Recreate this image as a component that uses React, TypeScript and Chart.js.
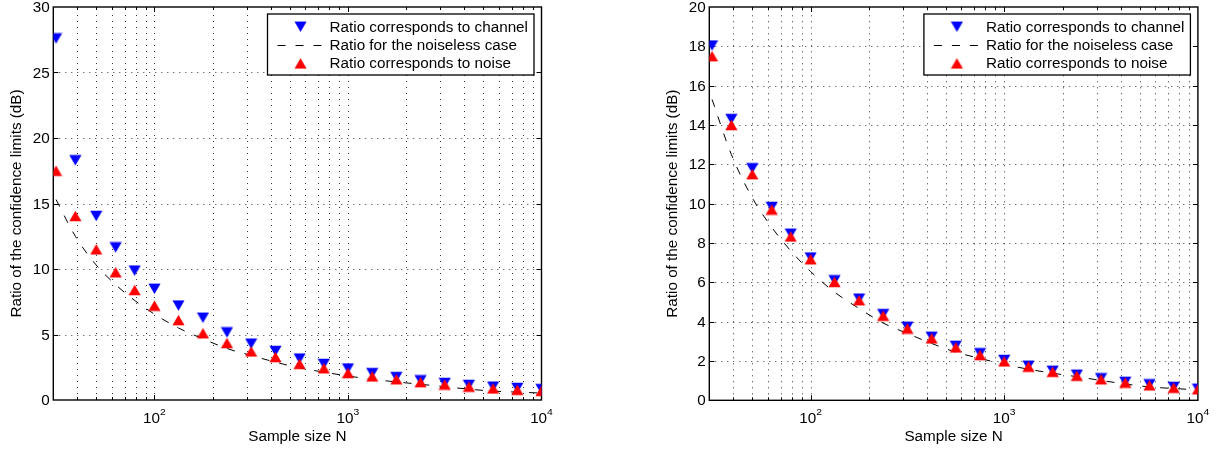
import React, { useEffect, useRef } from 'react';
import { Chart, registerables } from 'chart.js';

Chart.register(...registerables);

// ---------------- data ----------------
const sampleSizes = [31, 39, 50, 63, 79, 100, 133, 178, 237, 316, 422, 562, 750, 1000, 1334, 1778, 2371, 3162, 4217, 5623, 7499, 10000];

const leftChannel = [27.6, 18.3, 14.05, 11.65, 9.88, 8.49, 7.21, 6.28, 5.16, 4.3, 3.74, 3.16, 2.75, 2.4, 2.05, 1.75, 1.5, 1.3, 1.15, 1.02, 0.92, 0.83];
const leftNoise = [17.5, 14.05, 11.5, 9.75, 8.4, 7.2, 6.1, 5.1, 4.35, 3.71, 3.28, 2.76, 2.42, 2.06, 1.8, 1.58, 1.36, 1.18, 1.02, 0.88, 0.78, 0.7];

const rightChannel = [18.04, 14.3, 11.8, 9.83, 8.47, 7.26, 6.1, 5.17, 4.38, 3.74, 3.23, 2.77, 2.39, 2.05, 1.76, 1.5, 1.3, 1.12, 0.94, 0.81, 0.68, 0.59];
const rightNoise = [17.5, 14.0, 11.5, 9.7, 8.33, 7.17, 6.02, 5.09, 4.3, 3.65, 3.15, 2.69, 2.3, 1.98, 1.71, 1.45, 1.25, 1.07, 0.9, 0.76, 0.64, 0.56];

const noiseless = [15.3, 12.5, 10.3, 8.8, 7.6, 6.55, 5.5, 4.67, 3.93, 3.4, 2.89, 2.45, 2.13, 1.83, 1.58, 1.38, 1.2, 1.01, 0.83, 0.68, 0.6, 0.53];

const xMin = 30;
const xMax = 10000;
const xMajorTicks = [100, 1000, 10000];
const xExponents = ['2', '3', '4'];
const xMinorTicks = [30, 40, 50, 60, 70, 80, 90, 200, 300, 400, 500, 600, 700, 800, 900, 2000, 3000, 4000, 5000, 6000, 7000, 8000, 9000];

const leftYTicks = [0, 5, 10, 15, 20, 25, 30];
const rightYTicks = [0, 2, 4, 6, 8, 10, 12, 14, 16, 18, 20];

const legendLabels = ['Ratio corresponds to channel', 'Ratio for the noiseless case', 'Ratio corresponds to noise'];
const xTitle = 'Sample size N';
const yTitle = 'Ratio of the confidence limits (dB)';

// ---------------- styling helpers ----------------
const FONT_FAMILY = '"Liberation Sans", Arial, Helvetica, sans-serif';
const STRETCH = 1.09;
const FS = 14;
const DASH = [8, 10];

function drawText(ctx: CanvasRenderingContext2D, text: string, x: number, y: number, align: CanvasTextAlign, size: number, rotate = 0) {
  ctx.save();
  ctx.font = `${size}px ${FONT_FAMILY}`;
  ctx.fillStyle = '#000';
  ctx.translate(x, y);
  if (rotate) ctx.rotate(rotate);
  ctx.scale(STRETCH, 1);
  ctx.textAlign = align;
  ctx.textBaseline = 'alphabetic';
  ctx.fillText(text, 0, 0);
  ctx.restore();
}

function measure(ctx: CanvasRenderingContext2D, text: string, size: number) {
  ctx.save();
  ctx.font = `${size}px ${FONT_FAMILY}`;
  const w = ctx.measureText(text).width * STRETCH;
  ctx.restore();
  return w;
}

function makeTriangle(color: string, up: boolean) {
  const c = document.createElement('canvas');
  c.width = 13;
  c.height = 12;
  const g = c.getContext('2d')!;
  g.fillStyle = color;
  g.beginPath();
  if (up) {
    g.moveTo(6.5, 0.8);
    g.lineTo(12.6, 11.2);
    g.lineTo(0.4, 11.2);
  } else {
    g.moveTo(0.4, 0.8);
    g.lineTo(12.6, 0.8);
    g.lineTo(6.5, 11.2);
  }
  g.closePath();
  g.fill();
  return c;
}

type PanelProps = {
  left: number;
  width: number;
  height: number;
  padding: { left: number; right: number; top: number; bottom: number };
  yMax: number;
  yTicks: number[];
  channel: number[];
  noise: number[];
};

function Panel(props: PanelProps) {
  const ref = useRef<HTMLCanvasElement | null>(null);

  useEffect(() => {
    const canvas = ref.current;
    if (!canvas) return;
    const blueTri = makeTriangle('#0000ff', false);
    const redTri = makeTriangle('#ff0000', true);

    const axesPlugin = {
      id: 'matlabAxes',
      beforeDatasetsDraw(chart: any) {
        const ctx: CanvasRenderingContext2D = chart.ctx;
        const a = chart.chartArea;
        const xs = chart.scales.x;
        const ys = chart.scales.y;
        ctx.save();
        // dotted grid
        ctx.strokeStyle = 'rgba(0,0,0,0.8)';
        ctx.lineWidth = 1;
        ctx.setLineDash([1, 5]);
        const allX = [...xMinorTicks, ...xMajorTicks];
        for (const v of allX) {
          if (v <= xMin || v >= xMax) continue;
          const px = Math.round(xs.getPixelForValue(v)) + 0.5;
          ctx.beginPath();
          ctx.moveTo(px, a.bottom);
          ctx.lineTo(px, a.top);
          ctx.stroke();
        }
        for (const v of props.yTicks) {
          if (v <= 0 || v >= props.yMax) continue;
          const py = Math.round(ys.getPixelForValue(v)) + 0.5;
          ctx.beginPath();
          ctx.moveTo(a.left, py);
          ctx.lineTo(a.right, py);
          ctx.stroke();
        }
        ctx.setLineDash([]);
        // box
        ctx.strokeStyle = '#000';
        ctx.lineWidth = 1.4;
        ctx.strokeRect(a.left, a.top, a.right - a.left, a.bottom - a.top);
        // ticks
        ctx.lineWidth = 1;
        const tick = (x1: number, y1: number, x2: number, y2: number) => {
          ctx.beginPath();
          ctx.moveTo(x1, y1);
          ctx.lineTo(x2, y2);
          ctx.stroke();
        };
        for (const v of xMinorTicks) {
          if (v <= xMin || v >= xMax) continue;
          const px = Math.round(xs.getPixelForValue(v)) + 0.5;
          tick(px, a.bottom, px, a.bottom - 3);
          tick(px, a.top, px, a.top + 3);
        }
        for (const v of xMajorTicks) {
          if (v <= xMin || v >= xMax) continue;
          const px = Math.round(xs.getPixelForValue(v)) + 0.5;
          tick(px, a.bottom, px, a.bottom - 5);
          tick(px, a.top, px, a.top + 5);
        }
        for (const v of props.yTicks) {
          if (v <= 0 || v >= props.yMax) continue;
          const py = Math.round(ys.getPixelForValue(v)) + 0.5;
          tick(a.left, py, a.left + 5, py);
          tick(a.right, py, a.right - 5, py);
        }
        // y tick labels
        for (const v of props.yTicks) {
          const py = ys.getPixelForValue(v);
          drawText(ctx, String(v), a.left - 3.5, py + 5, 'right', FS);
        }
        // x tick labels 10^n
        xMajorTicks.forEach((v, i) => {
          const px = xs.getPixelForValue(v);
          const w10 = measure(ctx, '10', FS);
          const we = measure(ctx, xExponents[i], 9.5);
          const start = px - (w10 + we) / 2;
          drawText(ctx, '10', start, a.bottom + 23, 'left', FS);
          drawText(ctx, xExponents[i], start + w10, a.bottom + 15, 'left', 9.5);
        });
        // axis titles
        drawText(ctx, xTitle, (a.left + a.right) / 2, a.bottom + 41, 'center', FS);
        drawText(ctx, yTitle, a.left - 32, (a.top + a.bottom) / 2, 'center', FS, -Math.PI / 2);
        ctx.restore();
      },
      afterDatasetsDraw(chart: any) {
        const ctx: CanvasRenderingContext2D = chart.ctx;
        const a = chart.chartArea;
        ctx.save();
        const tw = Math.max(...legendLabels.map((t) => measure(ctx, t, FS)));
        const boxW = 62 + tw + 6;
        const boxH = 61;
        const bx = a.right - 7.5 - boxW;
        const by = a.top + 7;
        ctx.fillStyle = '#fff';
        ctx.fillRect(bx, by, boxW, boxH);
        ctx.strokeStyle = '#000';
        ctx.lineWidth = 1.3;
        ctx.strokeRect(bx, by, boxW, boxH);
        const rows = [by + 12.7, by + 31, by + 49.4];
        // row 1: channel marker
        ctx.drawImage(blueTri, bx + 33 - blueTri.width / 2, rows[0] - blueTri.height / 2);
        // row 2: dashed line
        ctx.lineWidth = 1;
        ctx.setLineDash(DASH);
        ctx.beginPath();
        ctx.moveTo(bx + 10, rows[1] + 0.5);
        ctx.lineTo(bx + 56, rows[1] + 0.5);
        ctx.stroke();
        ctx.setLineDash([]);
        // row 3: noise marker
        ctx.drawImage(redTri, bx + 33 - redTri.width / 2, rows[2] - redTri.height / 2);
        legendLabels.forEach((t, i) => {
          drawText(ctx, t, bx + 62, rows[i] + 5, 'left', FS);
        });
        ctx.restore();
      },
    };

    const chart = new Chart(canvas, {
      type: 'line',
      data: {
        datasets: [
          {
            label: legendLabels[0],
            data: sampleSizes.map((n, i) => ({ x: n, y: props.channel[i] })),
            showLine: false,
            pointStyle: blueTri as any,
            pointRadius: 6,
            borderColor: '#0000ff',
            backgroundColor: '#0000ff',
            order: 3,
          },
          {
            label: legendLabels[1],
            data: sampleSizes.map((n, i) => ({ x: n, y: noiseless[i] })),
            borderColor: '#000',
            borderWidth: 1,
            borderDash: DASH,
            pointRadius: 0,
            cubicInterpolationMode: 'monotone',
            fill: false,
            order: 2,
          },
          {
            label: legendLabels[2],
            data: sampleSizes.map((n, i) => ({ x: n, y: props.noise[i] })),
            showLine: false,
            pointStyle: redTri as any,
            pointRadius: 6,
            borderColor: '#ff0000',
            backgroundColor: '#ff0000',
            order: 1,
          },
        ],
      },
      options: {
        animation: false,
        responsive: false,
        maintainAspectRatio: false,
        events: [],
        layout: { padding: props.padding },
        plugins: { legend: { display: false }, tooltip: { enabled: false } },
        scales: {
          x: { type: 'logarithmic', display: false, min: xMin, max: xMax },
          y: { type: 'linear', display: false, min: 0, max: props.yMax },
        },
      },
      plugins: [axesPlugin],
    } as any);

    return () => chart.destroy();
  }, []);

  return (
    <canvas
      ref={ref}
      width={props.width}
      height={props.height}
      style={{ position: 'absolute', left: props.left, top: 0, width: props.width, height: props.height }}
    />
  );
}

export default function App() {
  return (
    <div style={{ position: 'fixed', left: 0, top: 0, width: 1226, height: 453, background: '#fff', overflow: 'hidden' }}>
      <Panel
        left={0}
        width={613}
        height={453}
        padding={{ left: 53.3, right: 71.5, top: 6.5, bottom: 53 }}
        yMax={30}
        yTicks={leftYTicks}
        channel={leftChannel}
        noise={leftNoise}
      />
      <Panel
        left={613}
        width={613}
        height={453}
        padding={{ left: 96.3, right: 28.1, top: 6.5, bottom: 52.7 }}
        yMax={20}
        yTicks={rightYTicks}
        channel={rightChannel}
        noise={rightNoise}
      />
    </div>
  );
}
